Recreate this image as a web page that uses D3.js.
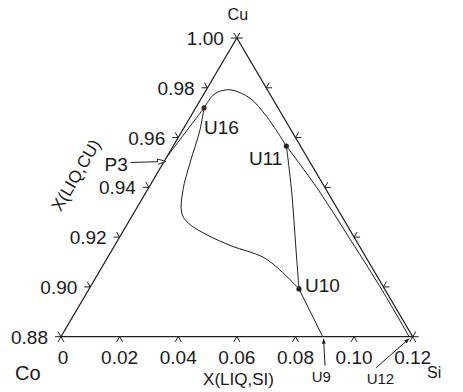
<!DOCTYPE html>
<html>
<head>
<meta charset="utf-8">
<script src="https://cdn.jsdelivr.net/npm/d3@7"></script>
<style>
  html, body { margin: 0; padding: 0; background: #fff; }
  svg { display: block; }
  text { font-family: Arial, "Liberation Sans", sans-serif; fill: #1a1a1a; }
</style>
</head>
<body>
<svg id="chart" width="463" height="392"></svg>
<script>
// Liquidus projection of the Cu-rich corner of Co-Cu-Si (mole fractions: [X(Si), X(Cu)])
const siTicks = [0, 0.02, 0.04, 0.06, 0.08, 0.10, 0.12];
const siTickLabels = ["0", "0.02", "0.04", "0.06", "0.08", "0.10", "0.12"];
const cuTicks = [0.88, 0.90, 0.92, 0.94, 0.96, 0.98, 1.00];
const cuTickLabels = ["0.88", "0.90", "0.92", "0.94", "0.96", "0.98", "1.00"];

// univariant lines
const lineP3U16 = [[0.0, 0.952], [0.0012, 0.9605], [0.0022, 0.9675], [0.00285, 0.9719]];
const lineU16U11 = [[0.00285, 0.9719], [0.00341, 0.9771], [0.00541, 0.9788], [0.00869, 0.9791],
                    [0.0166, 0.9758], [0.0260, 0.9684], [0.0386, 0.9566]];
const lineU11U12 = [[0.0386, 0.9566], [0.0583, 0.9390], [0.0782, 0.9200], [0.0989, 0.9000], [0.1188, 0.8800]];
const lineU16U10 = [[0.00285, 0.9719], [0.0059, 0.9630], [0.00912, 0.9498], [0.01216, 0.9389],
                    [0.01634, 0.9297], [0.02066, 0.9256], [0.0294, 0.9209], [0.0401, 0.9164],
                    [0.0529, 0.9120], [0.0613, 0.9068], [0.0716, 0.8992]];
const lineU11U10 = [[0.0386, 0.9566], [0.0492, 0.9389], [0.0628, 0.9148], [0.0716, 0.8992]];
const lineU10U9 = [[0.0716, 0.8992], [0.0893, 0.8800]];

// invariant points marked with a dot
const dotNames = ["U16", "U11", "U10"];
const dotPoints = [[0.00285, 0.9719], [0.0386, 0.9566], [0.0716, 0.8992]];

// invariant points labelled through an arrow
const arrowNames = ["P3", "U9", "U12"];
const arrowPoints = [[0.0, 0.952], [0.0893, 0.88], [0.1188, 0.88]];

const svg = d3.select("#chart");

// triangle frame: Co corner bottom-left, Si corner bottom-right, Cu apex
const xLeft = 61, xRight = 412.7, yBase = 336.7, yApex = 38;
const apexX = (xLeft + xRight) / 2;

const siScale = d3.scaleLinear().domain([0, 0.12]).range([xLeft, xRight]);
const cuScale = d3.scaleLinear().domain([0.88, 1.00]).range([yBase, yApex]);
const shift = d3.scaleLinear().domain([0.88, 1.00]).range([0, apexX - xLeft]);
const proj = ([si, cu]) => [siScale(si) + shift(cu), cuScale(cu)];

const ink = "#1e1e1e";

// frame
svg.append("path")
  .attr("d", d3.line()([proj([0, 0.88]), proj([0.12, 0.88]), proj([0, 1.0])]) + "Z")
  .attr("fill", "none").attr("stroke", ink).attr("stroke-width", 1.2);

// tick directions (outward, parallel to the two other sides)
const edgeL = [apexX - xLeft, yApex - yBase];
const lenL = Math.hypot(edgeL[0], edgeL[1]);
const uL = [edgeL[0] / lenL, edgeL[1] / lenL];      // up-right along Co-Cu side
const uR = [-uL[0], uL[1]];                         // up-left along Si-Cu side
const T = 6;
const tickG = svg.append("g").attr("stroke", ink).attr("stroke-width", 1);
function tick(p, dirs) {
  dirs.forEach(d => tickG.append("line")
    .attr("x1", p[0]).attr("y1", p[1])
    .attr("x2", p[0] + d[0] * T).attr("y2", p[1] + d[1] * T));
}
// bottom side: X(Si) at Cu = 0.88
siTicks.forEach(s => tick(proj([s, 0.88]), [[-uL[0], -uL[1]], [-uR[0], -uR[1]]]));
// left side: X(Cu) with Si = 0
cuTicks.forEach(c => tick(proj([0, c]), [[-1, 0], uR]));
// right side: same Cu levels with Co = 0
cuTicks.forEach(c => tick(proj([1 - c, c]), [[1, 0], uL]));

// tick labels
svg.append("g").selectAll("text").data(siTicks).join("text")
  .attr("x", (d, i) => proj([d, 0.88])[0] + (i === 0 ? 2 : 0))
  .attr("y", yBase + 27)
  .attr("text-anchor", "middle").attr("font-size", 19)
  .text((d, i) => siTickLabels[i]);
svg.append("g").selectAll("text").data(cuTicks).join("text")
  .attr("x", d => proj([0, d])[0] - 13)
  .attr("y", d => proj([0, d])[1] + 7)
  .attr("text-anchor", "end").attr("font-size", 19)
  .text((d, i) => cuTickLabels[i]);

// univariant lines
const curve = d3.line().x(d => proj(d)[0]).y(d => proj(d)[1]).curve(d3.curveCatmullRom.alpha(0.5));
const lines = [lineP3U16, lineU16U11, lineU11U12, lineU16U10, lineU11U10, lineU10U9];
svg.append("g").selectAll("path").data(lines).join("path")
  .attr("d", curve).attr("fill", "none").attr("stroke", ink).attr("stroke-width", 1);

// dots and their labels
svg.append("g").selectAll("circle").data(dotPoints).join("circle")
  .attr("cx", d => proj(d)[0]).attr("cy", d => proj(d)[1]).attr("r", 2.6)
  .attr("fill", (d, i) => i === 0 ? "#4a2323" : "#222");
const dotLabelPos = [
  { dx: 0, dy: 26, anchor: "start" },
  { dx: -4, dy: 19, anchor: "end" },
  { dx: 6, dy: 3, anchor: "start" }
];
svg.append("g").selectAll("text").data(dotPoints).join("text")
  .attr("x", (d, i) => proj(d)[0] + dotLabelPos[i].dx)
  .attr("y", (d, i) => proj(d)[1] + dotLabelPos[i].dy)
  .attr("text-anchor", (d, i) => dotLabelPos[i].anchor)
  .attr("font-size", 19)
  .text((d, i) => dotNames[i]);

// arrow-labelled points
const defs = svg.append("defs");
defs.append("marker").attr("id", "openHead").attr("viewBox", "0 0 10 10")
  .attr("refX", 10).attr("refY", 5).attr("markerWidth", 8).attr("markerHeight", 8)
  .attr("markerUnits", "userSpaceOnUse").attr("orient", "auto")
  .append("path").attr("d", "M0,1.5L10,5L0,8.5Z").attr("fill", "#fff").attr("stroke", ink).attr("stroke-width", 1.2);
defs.append("marker").attr("id", "smallHead").attr("viewBox", "0 0 10 10")
  .attr("refX", 10).attr("refY", 5).attr("markerWidth", 5).attr("markerHeight", 5)
  .attr("markerUnits", "userSpaceOnUse").attr("orient", "auto")
  .append("path").attr("d", "M0,1L10,5L0,9Z").attr("fill", ink);

const arrowLayout = [
  { from: [-36, 5], to: [-1, 4], label: [-62, 14], size: 19, head: "openHead" },
  { from: [2.3, 29], to: [0.8, 2], label: [-11, 45], size: 15, head: "smallHead" },
  { from: [-33, 31], to: [0, 2], label: [-42.5, 47], size: 15, head: "smallHead" }
];
const ag = svg.append("g");
arrowPoints.forEach((p, i) => {
  const [x, y] = proj(p), L = arrowLayout[i];
  ag.append("line")
    .attr("x1", x + L.from[0]).attr("y1", y + L.from[1])
    .attr("x2", x + L.to[0]).attr("y2", y + L.to[1])
    .attr("stroke", ink).attr("stroke-width", 1)
    .attr("marker-end", `url(#${L.head})`);
  ag.append("text")
    .attr("x", x + L.label[0]).attr("y", y + L.label[1])
    .attr("font-size", L.size)
    .text(arrowNames[i]);
});

// corner and axis titles
svg.append("text").attr("x", apexX + 1).attr("y", 20).attr("text-anchor", "middle")
  .attr("font-size", 16).text("Cu");
svg.append("text").attr("x", 15).attr("y", 380).attr("font-size", 20).text("Co");
svg.append("text").attr("x", 427).attr("y", 378).attr("font-size", 16).text("Si");
svg.append("text").attr("x", 238.5).attr("y", 385).attr("text-anchor", "middle")
  .attr("font-size", 17).text("X(LIQ,SI)");
const angle = -Math.atan2(yBase - yApex, apexX - xLeft) * 180 / Math.PI;
svg.append("text")
  .attr("transform", `translate(81,178) rotate(${angle})`)
  .attr("text-anchor", "middle").attr("font-size", 17)
  .text("X(LIQ,CU)");
</script>
</body>
</html>
